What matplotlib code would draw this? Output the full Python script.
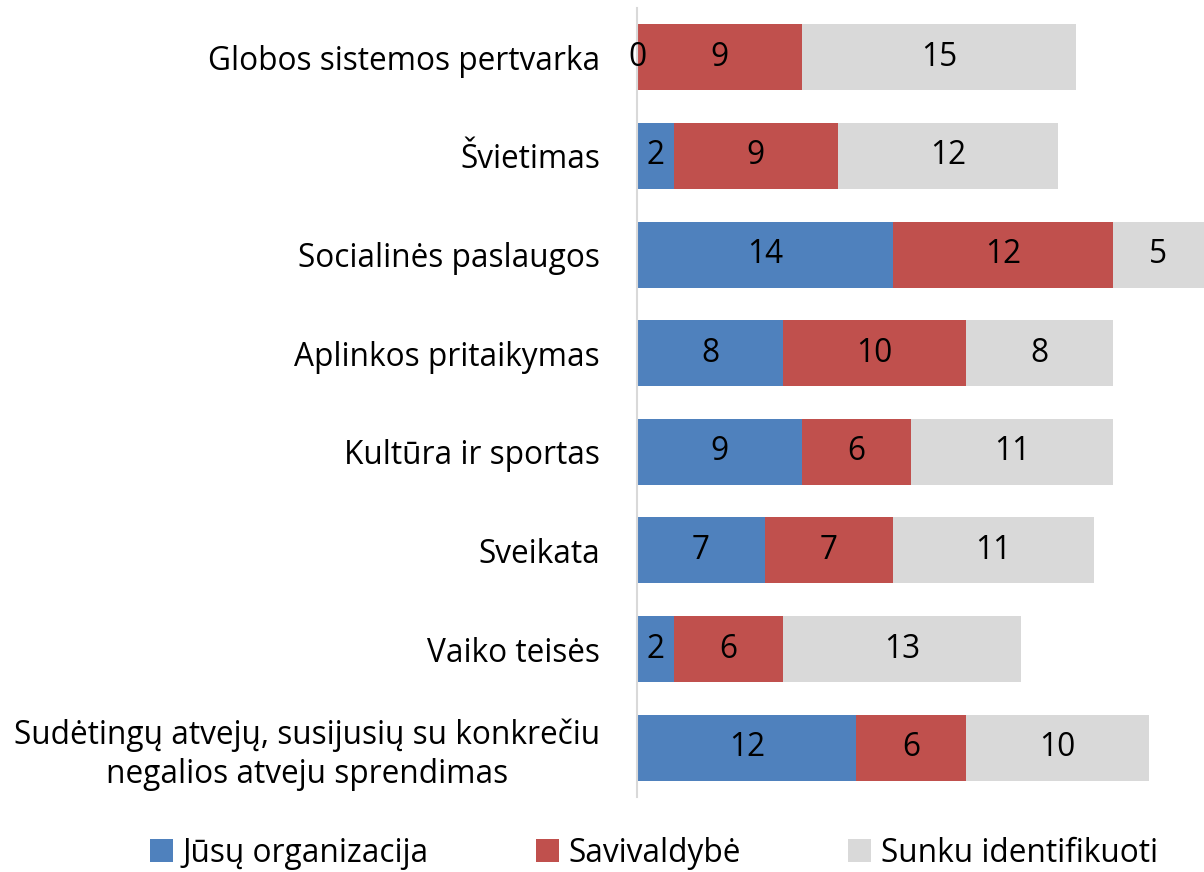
import matplotlib
matplotlib.use("Agg")
import matplotlib.pyplot as plt
import numpy as np

plt.rcParams['font.family'] = ['Open Sans', 'DejaVu Sans']

categories = [
    "Globos sistemos pertvarka",
    "Švietimas",
    "Socialinės paslaugos",
    "Aplinkos pritaikymas",
    "Kultūra ir sportas",
    "Sveikata",
    "Vaiko teisės",
    "Sudėtingų atvejų, susijusių su konkrečiu\nnegalios atveju sprendimas",
]
jusu_org = [0, 2, 14, 8, 9, 7, 2, 12]
savivaldybe = [9, 9, 12, 10, 6, 7, 6, 6]
sunku = [15, 12, 5, 8, 11, 11, 13, 10]
series_names = ["Jūsų organizacija", "Savivaldybė", "Sunku identifikuoti"]
colors = ["#4F81BD", "#C0504D", "#D9D9D9"]

FS = 22.8

fig = plt.figure(figsize=(12.04, 8.72), dpi=100)
ax = fig.add_axes([637 / 1204, 1 - 797 / 872, 1 - 637 / 1204, (797 - 8) / 872])

y = np.arange(len(categories))
left = np.zeros(len(categories))
handles = []
for vals, name, c in zip([jusu_org, savivaldybe, sunku], series_names, colors):
    vals = np.array(vals, dtype=float)
    b = ax.barh(y, vals, left=left, height=0.67, color=c, label=name)
    handles.append(b)
    for yi, (l, v) in enumerate(zip(left, vals)):
        ax.text(l + v / 2, yi, f"{int(v)}", ha="center", va="center",
                fontsize=FS, color="black")
    left += vals

ax.set_xlim(0, 31)
ax.set_ylim(len(categories) - 0.5, -0.5)
ax.set_yticks(y)
ax.set_yticklabels(categories, fontsize=FS, linespacing=1.25)
ax.tick_params(axis="y", length=0, pad=0)
ax.set_xticks([])
for s in ["top", "right", "bottom"]:
    ax.spines[s].set_visible(False)
ax.spines["left"].set_color("#D9D9D9")
ax.spines["left"].set_linewidth(1.5)

for lbl in ax.get_yticklabels():
    lbl.set_horizontalalignment("right")
    lbl.set_multialignment("center")
    lbl.set_x(-37 / 567)

fig.legend(handles=handles, labels=series_names, loc="center",
           bbox_to_anchor=(0.543, 1 - 853 / 872), ncol=3, frameon=False,
           fontsize=FS, handlelength=0.72, handleheight=0.72, handletextpad=0.3,
           columnspacing=3.4)

fig.savefig("out.png", dpi=100)
